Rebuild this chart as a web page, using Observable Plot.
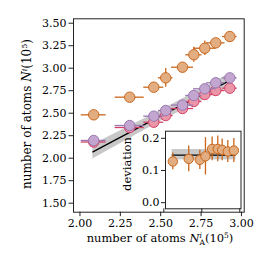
<!DOCTYPE html>
<html><head><meta charset="utf-8">
<script src="https://cdn.jsdelivr.net/npm/d3@7"></script>
<script src="https://cdn.jsdelivr.net/npm/@observablehq/plot@0.6"></script>
<style>
body{margin:0;background:#fff}
#c{position:relative;width:273px;height:273px}
#c svg{position:absolute;left:0;top:0;background:transparent}
</style></head><body><div id="c"></div>
<script>
// ---- data ----
const xA = [2.085, 2.308, 2.457, 2.531, 2.635, 2.705, 2.773, 2.841, 2.928];
const xErr = [0.077, 0.09, 0.062, 0.045, 0.068, 0.05, 0.07, 0.057, 0.045];
const orangeY = [2.482, 2.678, 2.789, 2.893, 3.011, 3.149, 3.222, 3.282, 3.352];
const orangeErr = [0.02, 0.02, 0.03, 0.105, 0.03, 0.083, 0.08, 0.03, 0.03];
const purpleY = [2.197, 2.363, 2.467, 2.530, 2.590, 2.697, 2.771, 2.838, 2.893];
const purpleErr = [0.02, 0.03, 0.03, 0.04, 0.03, 0.05, 0.04, 0.03, 0.03];
const pinkY = [2.180, 2.341, 2.400, 2.474, 2.552, 2.630, 2.708, 2.752, 2.778];
const pinkErr = [0.02, 0.03, 0.03, 0.03, 0.03, 0.04, 0.03, 0.03, 0.03];
const fitX = [2.08, 2.5, 2.93];
const fitY = [2.07, 2.47, 2.865];
const fitLo = [1.99, 2.41, 2.795];
const fitHi = [2.15, 2.53, 2.94];
const xTicks = [2.00, 2.25, 2.50, 2.75, 3.00];
const yTicks = [1.50, 1.75, 2.00, 2.25, 2.50, 2.75, 3.00, 3.25, 3.50];
// inset
const devX = [2.559, 2.664, 2.737, 2.774, 2.818, 2.855, 2.884, 2.921, 2.961];
const devY = [0.128, 0.136, 0.133, 0.144, 0.167, 0.167, 0.164, 0.159, 0.162];
const devErr = [0.026, 0.04, 0.03, 0.058, 0.037, 0.04, 0.034, 0.034, 0.037];
const devFitX = [2.555, 2.975];
const devFit = 0.148;
const devBand = [0.133, 0.165];
const insetXTicks = [2.50, 2.75, 3.00];
const insetYTicks = [0.0, 0.1, 0.2];

const C = {
  orange: {fill: "#e3ad82", stroke: "#c9671c"},
  pink: {fill: "#eb96a6", stroke: "#d43f66"},
  purple: {fill: "#c2a6cf", stroke: "#9a76b0"}
};
const font = "DejaVu Serif";

const rows = (ys, errs) => xA.map((x, i) => ({x, y: ys[i], xlo: x - xErr[i], xhi: x + xErr[i], ylo: ys[i] - errs[i], yhi: ys[i] + errs[i]}));
const orange = rows(orangeY, orangeErr);
const purple = rows(purpleY, purpleErr);
const pink = rows(pinkY, pinkErr);
const band = fitX.map((x, i) => ({x, lo: fitLo[i], hi: fitHi[i], y: fitY[i]}));

function series(data, c, r) {
  return [
    Plot.ruleY(data, {y: "y", x1: "xlo", x2: "xhi", stroke: c.stroke, strokeWidth: 1.3}),
    Plot.ruleX(data, {x: "x", y1: "ylo", y2: "yhi", stroke: c.stroke, strokeWidth: 1.3}),
    Plot.dot(data, {x: "x", y: "y", r, fill: c.fill, stroke: c.stroke, strokeWidth: 1, fillOpacity: 1})
  ];
}

const main = Plot.plot({
  width: 273, height: 273,
  marginLeft: 73, marginRight: 29.3, marginTop: 18.3, marginBottom: 61.3,
  style: {fontFamily: font, fontSize: "11px", background: "transparent", color: "#000"},
  x: {domain: [1.96, 3.017]},
  y: {domain: [1.40, 3.549]},
  marks: [
    Plot.areaY(band, {x: "x", y1: "lo", y2: "hi", fill: "#c2c2c2", fillOpacity: 0.9}),
    Plot.line(band, {x: "x", y: "y", stroke: "black", strokeWidth: 1.3}),
    ...series(pink, C.pink, 5.2),
    ...series(purple, C.purple, 5.2),
    ...series(orange, C.orange, 5.2),
    Plot.axisX({ticks: xTicks, tickFormat: ".2f", tickSize: 4.5, tickPadding: 2, label: null, stroke: "#222"}),
    Plot.axisY({ticks: yTicks, tickFormat: ".2f", tickSize: 4.5, tickPadding: 2.5, label: null, stroke: "#222"}),
    Plot.frame({stroke: "#222", strokeWidth: 1})
  ]
});

const dev = devX.map((x, i) => ({x, y: devY[i], ylo: devY[i] - devErr[i], yhi: devY[i] + devErr[i]}));
const yLo = -0.019, yHi = 0.222;
const tickLen = 4 * (yHi - yLo) / (273 - 130.7 - 64.7);
const inset = Plot.plot({
  width: 273, height: 273,
  marginLeft: 165, marginRight: 32.5, marginTop: 130.7, marginBottom: 64.7,
  style: {fontFamily: font, fontSize: "11px", background: "transparent", color: "#000", overflow: "visible"},
  x: {domain: [2.511, 3.008], axis: null},
  y: {domain: [yLo, yHi]},
  marks: [
    Plot.frame({fill: "white", stroke: "none"}),
    Plot.rect([0], {x1: () => devFitX[0], x2: () => devFitX[1], y1: () => devBand[0], y2: () => devBand[1], fill: "#c8c8c8"}),
    Plot.ruleY([devFit], {x1: devFitX[0], x2: devFitX[1], stroke: "black", strokeWidth: 1.3}),
    Plot.ruleX(dev, {x: "x", y1: "ylo", y2: "yhi", stroke: C.orange.stroke, strokeWidth: 1.3}),
    Plot.dot(dev, {x: "x", y: "y", r: 4.7, fill: C.orange.fill, stroke: C.orange.stroke, strokeWidth: 1}),
    Plot.ruleX(insetXTicks, {x: d => d, y1: yLo, y2: yLo - tickLen, stroke: "#222", strokeWidth: 1}),
    Plot.axisY({ticks: insetYTicks, tickFormat: ".1f", tickSize: 4, tickPadding: 2, label: null, stroke: "#222"}),
    Plot.frame({stroke: "#222", strokeWidth: 1})
  ]
});

const c = document.getElementById("c");
c.appendChild(main);
c.appendChild(inset);

// axis labels with math formatting
function mathLabel(svg, x, y, rotate, parts, fs) {
  const t = d3.select(svg).append("text")
    .attr("transform", `translate(${x},${y})` + (rotate ? " rotate(-90)" : ""))
    .attr("text-anchor", "middle")
    .attr("font-family", font).attr("font-size", fs).attr("fill", "#000");
  for (const p of parts) {
    const s = t.append("tspan").text(p.t);
    if (p.it) s.attr("font-style", "italic");
    if (p.dy) s.attr("dy", p.dy);
    if (p.dx) s.attr("dx", p.dx);
    if (p.fs) s.attr("font-size", p.fs);
  }
}
mathLabel(main, 31, 114, true, [
  {t: "number of atoms "}, {t: "N", it: true}, {t: "i", it: true, fs: 8, dy: -4.5},
  {t: "(10", dy: 4.5}, {t: "5", fs: 8, dy: -4.5}, {t: ")", dy: 4.5}
], 12);
mathLabel(main, 160, 242, false, [
  {t: "number of atoms "}, {t: "N", it: true}, {t: "i", it: true, fs: 7.5, dy: -4.5},
  {t: "A", fs: 7.5, dy: 7.5, dx: -2.3}, {t: "(10", dy: -3}, {t: "5", fs: 7.5, dy: -4.5}, {t: ")", dy: 4.5}
], 11.5);
mathLabel(inset, 130.5, 164, true, [{t: "deviation"}], 11.5);
</script></body></html>
